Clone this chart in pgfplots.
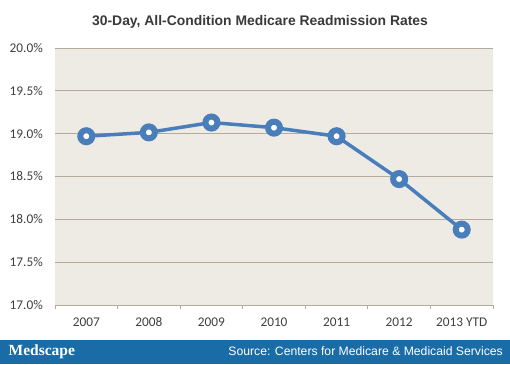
\documentclass[border=0pt]{standalone}
\usepackage{pgfplots}
\pgfplotsset{compat=1.18}
\usepackage{fontspec}
\setmainfont{Carlito}
\newfontfamily\arialfont{Liberation Sans}
\newfontfamily\seriffont{Liberation Serif}
\definecolor{bgc}{HTML}{EDEBE3}
\definecolor{gridc}{HTML}{B3AB9E}
\definecolor{lineblue}{HTML}{4A7EBB}
\definecolor{banner}{HTML}{1A6CA7}
\definecolor{txt}{HTML}{404040}
\begin{document}
\begin{tikzpicture}[x=1pt,y=1pt]
\fill[white] (0,0) rectangle (510,364);
\fill[banner] (0,0) rectangle (510,24.5);
\node[anchor=west,text=white,inner sep=0pt,font=\seriffont\bfseries\fontsize{15.5}{16}\selectfont] at (8.5,12.5) {Medscape};
\node[anchor=east,text=white,inner sep=0pt,font=\arialfont\fontsize{12.2}{13}\selectfont] at (503,12.5) {Source: Centers for Medicare \& Medicaid Services};
\node[text=txt!90!black,inner sep=0pt,font=\arialfont\bfseries\fontsize{13.9}{14}\selectfont] at (260,342) {30-Day, All-Condition Medicare Readmission Rates};
\begin{axis}[
  at={(55pt,59pt)}, anchor=south west,
  scale only axis, width=438pt, height=257pt,
  xmin=-0.5, xmax=6.5, ymin=17, ymax=20,
  axis background/.style={fill=bgc},
  axis x line*=bottom, axis y line*=left,
  x axis line style={gridc, line width=0.8pt},
  y axis line style={draw=none},
  ytick={17,17.5,18,18.5,19,19.5,20},
  ymajorgrids, grid style={gridc, line width=0.8pt},
  ytick style={draw=none},
  /pgf/number format/assume math mode=true,
  yticklabel={\pgfmathprintnumber[fixed,fixed zerofill,precision=1]{\tick}\%},
  yticklabel style={font=\fontsize{13.3}{14}\selectfont, text=txt, inner sep=0pt, anchor=east, xshift=-12pt},
  xtick={0,1,2,3,4,5,6},
  xticklabels={2007,2008,2009,2010,2011,2012,2013 YTD},
  xticklabel style={font=\fontsize{13.3}{14}\selectfont, text=txt, inner sep=0pt, anchor=north, text height=8.5pt, text depth=0pt, yshift=-12.5pt},
  major x tick style={draw=none},
  minor xtick={-0.5,0.5,1.5,2.5,3.5,4.5,5.5,6.5},
  minor x tick style={gridc, line width=0.8pt},
  tick align=outside, minor tick length=4pt, major tick length=0pt,
  clip=false,
]
\addplot[lineblue, line width=3.5pt, mark=*, mark size=6pt,
  mark options={fill=white, draw=lineblue, line width=6pt}]
  coordinates {(0,18.97) (1,19.015) (2,19.13) (3,19.07) (4,18.97) (5,18.47) (6,17.88)};
\end{axis}
\end{tikzpicture}
\end{document}
